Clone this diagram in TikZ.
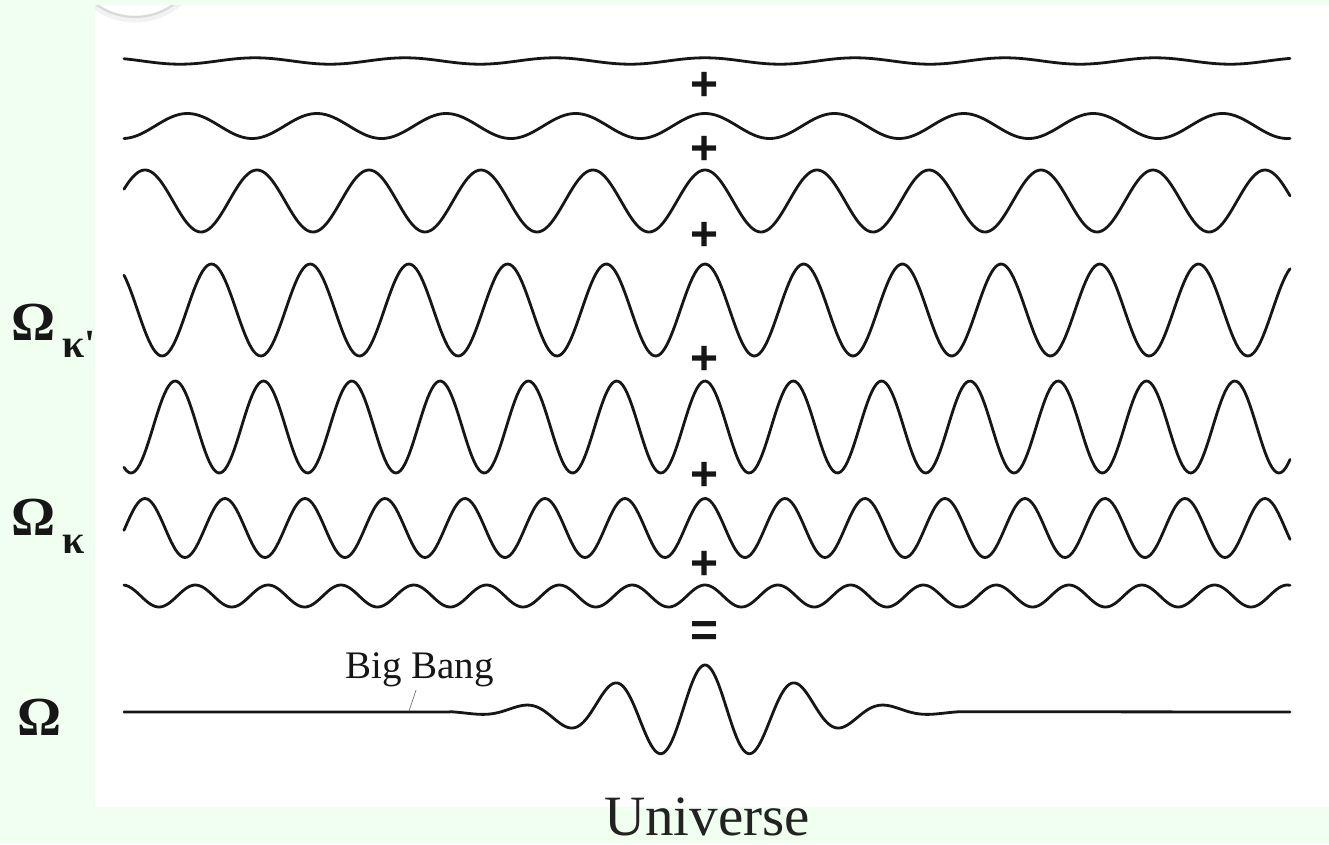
\documentclass[tikz,border=0pt]{standalone}
\usepackage{fontspec}
\setmainfont{Liberation Serif}
\newfontfamily\opfont{Liberation Sans}
\definecolor{bggreen}{RGB}{240,255,240}
\definecolor{ink}{RGB}{22,22,22}
\begin{document}
\begin{tikzpicture}[x=1pt,y=-1pt,
  wave/.style={line width=2.8pt, draw=ink, line join=round, line cap=round},
  op/.style={font=\opfont\bfseries\fontsize{48}{48}\selectfont, inner sep=0pt, text=ink},
  omega/.style={font=\bfseries\fontsize{55}{55}\selectfont, inner sep=0pt, anchor=base west, text=ink},
  sublbl/.style={font=\bfseries\fontsize{40}{40}\selectfont, inner sep=0pt, anchor=base west, text=ink},
]
\fill[bggreen] (0,0) rectangle (1329,844);
\useasboundingbox (0,0) rectangle (1329,844);
\fill[white] (95,5) rectangle (1329,807);
\begin{scope}
  \clip (95,5) rectangle (1329,807);
  \draw[line width=7pt, draw=black!5] (135,-49) circle[radius=68];
  \draw[line width=2pt, draw=black!15] (135,-49) circle[radius=66];
\end{scope}

% component waves
\foreach \yc/\amp/\per in {61/3.2/150, 126/12.5/129.4, 201/31/112, 310/46/98.7, 427/46/88.3, 528/29.5/80, 596/11/72.8}{
  \draw[wave] plot[domain=124:1290, samples=520] (\x, {\yc - \amp*cos(((\x-705)/\per)*360)});
}

% resulting packet
\draw[wave] (124,712) -- (450,712) -- plot[domain=450:960, samples=300]
  (\x, {712 - 47*exp(-((\x-705)/130)*((\x-705)/130))*cos(((\x-705)/91)*360)}) -- (1290,712);

% operators
\node[op] (p1) at (705,86) {+};
\node[op] (p2) at (705,150) {+};
\node[op] (p3) at (705,236) {+};
\node[op] (p4) at (705,360) {+};
\node[op] (p5) at (705,476) {+};
\node[op] (p6) at (705,565) {+};
\node[op] (eq) at (705,634) {=};

% labels
\node[omega] (om1) at (11,340) {Ω};
\node[sublbl] (k1) at (62,357) {κ\textquotesingle};
\node[omega] (om2) at (11,535) {Ω};
\node[sublbl] (k2) at (62,553) {κ};
\node[omega] (om3) at (17,735) {Ω};

\node[font=\fontsize{39}{39}\selectfont, anchor=base west, inner sep=0pt, text=ink] (bb) at (345,678) {Big Bang};
\coordinate (bbfrom) at (416,690);
\coordinate (bbto) at (409,711);
\draw[draw=gray, line width=0.8pt] (bbfrom) -- (bbto);

\node[font=\fontsize{57}{57}\selectfont, anchor=base, inner sep=0pt, text=ink!95] (uni) at (707,835) {Universe};
\end{tikzpicture}
\end{document}
